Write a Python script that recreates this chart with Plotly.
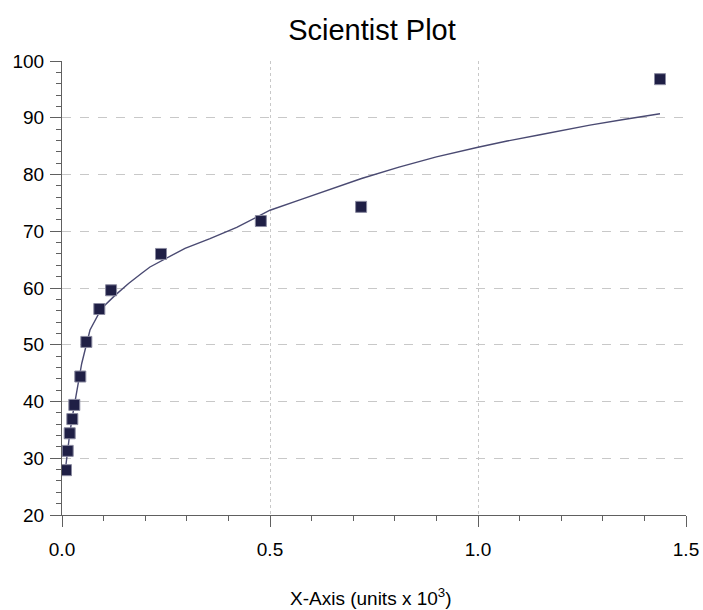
import plotly.graph_objects as go

# Measured data (x in units x 10^3)
x_data = [0.0096, 0.0137, 0.0185, 0.0248, 0.0296, 0.0440, 0.0585, 0.0897, 0.1180, 0.2380, 0.4780, 0.7190, 1.4375]
y_data = [27.9, 31.3, 34.4, 36.9, 39.4, 44.4, 50.5, 56.3, 59.6, 66.0, 71.8, 74.3, 96.8]

# Fitted curve
curve_x = [0.0096, 0.0137, 0.0185, 0.0248, 0.0330, 0.0474, 0.0673, 0.0950, 0.1274, 0.1600, 0.1916, 0.2115, 0.2957,
           0.3558, 0.4200, 0.5000, 0.5700, 0.6442, 0.7200, 0.8101, 0.9000, 1.0000, 1.0700, 1.1490, 1.2690, 1.3500, 1.4375]
curve_y = [28.9, 31.5, 34.3, 37.3, 40.8, 46.7, 52.6, 56.4, 58.7, 60.8, 62.6, 63.7, 67.0,
           68.7, 70.7, 73.7, 75.5, 77.4, 79.3, 81.3, 83.1, 84.8, 85.9, 87.0, 88.7, 89.7, 90.7]

x_ticks = [0.0, 0.5, 1.0, 1.5]
x_tick_labels = ["0.0", "0.5", "1.0", "1.5"]
y_ticks = [20, 30, 40, 50, 60, 70, 80, 90, 100]
x_title = "X-Axis (units x 10<sup>3</sup>)"
chart_title = "Scientist Plot"

FONT = "Liberation Sans, Arial, sans-serif"
AX = "#606060"

fig = go.Figure()
fig.add_trace(go.Scatter(x=curve_x, y=curve_y, mode="lines",
                         line=dict(color="#4a4a72", width=1.4), hoverinfo="skip", showlegend=False))
fig.add_trace(go.Scatter(x=x_data, y=y_data, mode="markers",
                         marker=dict(symbol="square", size=11, color="#1f1f45",
                                     line=dict(color="#8a8aa0", width=1)),
                         showlegend=False))

fig.update_layout(
    width=703, height=610,
    margin=dict(l=62, r=17, t=61, b=95),
    paper_bgcolor="white", plot_bgcolor="white",
    font=dict(family=FONT, color="black", size=19),
    title=dict(text=chart_title, x=372 / 703, xanchor="center", y=1 - 30 / 610, yanchor="middle",
               yref="container", font=dict(size=29, family=FONT, color="black")),
    xaxis=dict(range=[0, 1.5], tickvals=x_ticks, ticktext=x_tick_labels,
               ticks="outside", ticklen=11, tickwidth=1, tickcolor=AX,
               showline=True, linecolor=AX, linewidth=1, mirror=False, automargin=False,
               showgrid=True, gridcolor="#c8c8c8", griddash="dot", gridwidth=1,
               minor=dict(dtick=0.1, ticks="outside", ticklen=5, tickcolor=AX, showgrid=False),
               zeroline=False, ticklabelstandoff=6),
    yaxis=dict(range=[20, 100], tickvals=y_ticks,
               ticks="outside", ticklen=11, tickwidth=1, tickcolor=AX,
               showline=True, linecolor=AX, linewidth=1, mirror=False, automargin=False,
               showgrid=True, gridcolor="#c8c8c8", griddash="dash", gridwidth=1,
               minor=dict(dtick=2, ticks="outside", ticklen=5, tickcolor=AX, showgrid=False),
               zeroline=False, ticklabelstandoff=2),
    xaxis2=dict(range=[0, 1.5], overlaying="x", side="top", anchor="y", tickvals=x_ticks,
                showticklabels=False, ticks="inside", ticklen=11, tickcolor=AX, automargin=False,
                showline=True, linecolor=AX, linewidth=1, showgrid=False, zeroline=False,
                minor=dict(dtick=0.1, ticks="inside", ticklen=6, tickcolor=AX, showgrid=False)),
    yaxis2=dict(range=[20, 100], overlaying="y", side="right", anchor="x", tickvals=y_ticks,
                showticklabels=False, ticks="inside", ticklen=11, tickcolor=AX, automargin=False,
                showline=True, linecolor=AX, linewidth=1, showgrid=False, zeroline=False,
                minor=dict(dtick=2, ticks="inside", ticklen=6, tickcolor=AX, showgrid=False)),
    annotations=[dict(text=x_title, xref="paper", yref="paper", x=0.495, y=-82 / 454,
                      xanchor="center", yanchor="middle", showarrow=False,
                      font=dict(size=19, family=FONT, color="black"))],
)

# Remove the default page margin so the 703x610 figure fills the window exactly.
fig.write_html("out.html", config={"displayModeBar": False},
               post_script="document.body.style.margin='0';document.body.style.overflow='hidden';")
